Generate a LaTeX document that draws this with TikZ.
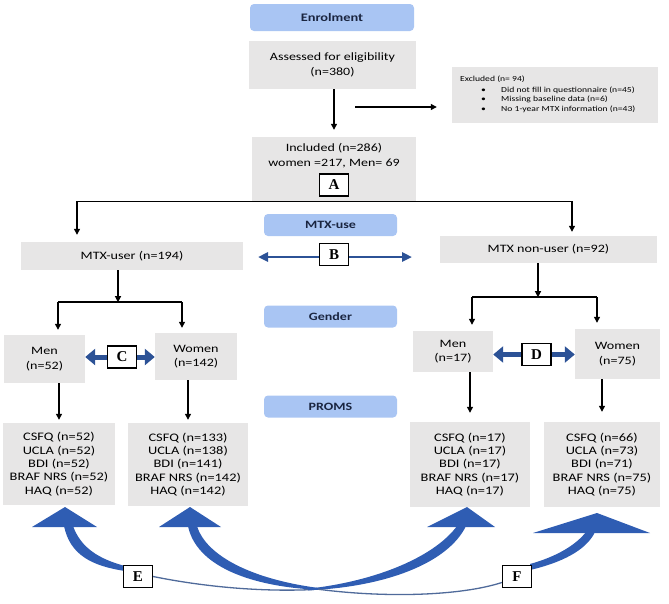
\documentclass[tikz,border=0pt]{standalone}
\usepackage{fontspec}
\setmainfont{Carlito}[FakeStretch=1.25]
\newfontfamily\letterfont{Liberation Serif}
\usetikzlibrary{arrows.meta}
\definecolor{boxgray}{HTML}{E7E6E6}
\definecolor{hdrblue}{HTML}{A9C5F3}
\definecolor{arrblue}{HTML}{2F5DB3}
\definecolor{dblblue}{HTML}{2C5296}
\definecolor{thinblue}{HTML}{4F6A9A}
\definecolor{hdrtext}{HTML}{1A2540}
\pgfdeclarelayer{bg}
\pgfsetlayers{bg,main}
\begin{document}
\begin{tikzpicture}[x=1pt,y=-1pt,
  gbox/.style={fill=boxgray, draw=none, inner sep=0pt, align=center, font=\fontsize{11.3}{14.5}\selectfont},
  pbox/.style={fill=boxgray, draw=none, inner sep=0pt, align=center, font=\fontsize{11.5}{13.3}\selectfont},
  hbox/.style={fill=hdrblue, rounded corners=4pt, inner sep=0pt, minimum width=133pt, minimum height=22pt, font=\bfseries\fontsize{11.2}{12}\selectfont, text=hdrtext},
  lbox/.style={draw=black, line width=1.2pt, fill=white, inner sep=0pt, minimum width=29pt, minimum height=22pt, font=\letterfont\bfseries\fontsize{15}{15}\selectfont},
  arr/.style={line width=1.2pt, -{Triangle[length=6pt,width=6pt]}},
  ln/.style={line width=1.2pt},
  dblab/.style={draw=dblblue, line width=2.6pt, {Triangle[length=10pt,width=9pt]}-{Triangle[length=10pt,width=9pt]}},
  dblcd/.style={draw=dblblue, line width=5pt, {Triangle[length=10pt,width=16pt]}-{Triangle[length=10pt,width=16pt]}},
  thin/.style={draw=thinblue, line width=1.3pt},
  exfont/.style={anchor=west, inner sep=0pt, font=\fontsize{7.7}{9}\selectfont}
]
\useasboundingbox (0,0) rectangle (669,603);

% top part
\node[hbox, minimum width=164pt, minimum height=27pt, font=\bfseries\fontsize{11.5}{12}\selectfont] (enrol) at (332,17.5) {Enrolment};
\node[gbox, minimum width=167pt, minimum height=48pt, font=\fontsize{11.2}{15}\selectfont] (ass) at (332.5,65) {Assessed for eligibility\\(n=380)};
\node[gbox, minimum width=164pt, minimum height=64pt] (incl) at (334,169) {};
\node[inner sep=0pt, align=center, font=\fontsize{11.2}{15}\selectfont] (incltxt) at (334,156) {Included (n=286)\\women =217, Men= 69};
\node[gbox, minimum width=206pt, minimum height=56pt] (excl) at (555,95) {};
\node[exfont] (ex0) at (460,79) {Excluded (n= 94)};
\node[exfont] (ex1) at (481,90.5) {\makebox[20pt][l]{\textbullet}Did not fill in questionnaire (n=45)};
\node[exfont] (ex2) at (481,99.5) {\makebox[20pt][l]{\textbullet}Missing baseline data (n=6)};
\node[exfont] (ex3) at (481,109) {\makebox[20pt][l]{\textbullet}No 1-year MTX information (n=43)};

% headers
\node[hbox] (mtxuse) at (330.5,225) {MTX-use};
\node[hbox] (gender) at (330.5,316.5) {Gender};
\node[hbox] (proms) at (330.5,406.5) {PROMS};

% groups
\node[gbox, minimum width=222pt, minimum height=28pt] (user) at (132,256) {MTX-user (n=194)};
\node[gbox, minimum width=217pt, minimum height=27pt] (nonuser) at (548.5,249.5) {MTX non-user (n=92)};
\node[gbox, minimum width=81pt, minimum height=48pt] (menL) at (44.5,359) {Men\\(n=52)};
\node[gbox, minimum width=82pt, minimum height=47pt] (womL) at (196,356.5) {Women\\(n=142)};
\node[gbox, minimum width=80pt, minimum height=41pt] (menR) at (453,351.5) {Men\\(n=17)};
\node[gbox, minimum width=85pt, minimum height=50pt] (womR) at (617.5,354) {Women\\(n=75)};

% PROMS boxes
\node[pbox, minimum width=112pt, minimum height=82pt] (p1) at (59,464) {CSFQ (n=52)\\UCLA (n=52)\\BDI (n=52)\\BRAF NRS (n=52)\\HAQ (n=52)};
\node[pbox, minimum width=120pt, minimum height=83pt] (p2) at (188,464.5) {CSFQ (n=133)\\UCLA (n=138)\\BDI (n=141)\\BRAF NRS (n=142)\\HAQ (n=142)};
\node[pbox, minimum width=120pt, minimum height=85pt] (p3) at (470,464.5) {CSFQ (n=17)\\UCLA (n=17)\\BDI (n=17)\\BRAF NRS (n=17)\\HAQ (n=17)};
\node[pbox, minimum width=116pt, minimum height=85pt] (p4) at (602,464.5) {CSFQ (n=66)\\UCLA (n=73)\\BDI (n=71)\\BRAF NRS (n=75)\\HAQ (n=75)};

% letter boxes
\node[lbox] (A) at (334,185) {A};
\node[lbox] (B) at (334,254.5) {B};
\node[lbox] (C) at (122,357) {C};
\node[lbox] (D) at (536.5,354.5) {D};
\node[lbox] (E) at (138,576.5) {E};
\node[lbox] (F) at (517,576.5) {F};

% black connectors
\draw[arr, shorten >=7pt] (incl.north |- ass.south) -- (incl.north);
\coordinate (exs) at (355,107);
\draw[arr, shorten >=15pt] (exs) -- (exs -| excl.west);
\draw[arr, shorten >=7pt] (incl.south) -| ([xshift=-55pt]user.north);
\draw[arr, shorten >=4pt] (incl.south) -| ([xshift=23.5pt]nonuser.north);

\draw[arr] ([xshift=-14pt]user.south) -- ++(0,32);
\coordinate (bl1) at (58,302);
\coordinate (bl2) at (182,302);
\draw[ln] (bl1) -- (bl2);
\draw[arr, shorten >=5pt] (bl1) -- (bl1 |- menL.north);
\draw[arr, shorten >=5pt] (bl2) -- (bl2 |- womL.north);

\draw[arr] ([xshift=-10.5pt]nonuser.south) -- ++(0,34);
\coordinate (br1) at (472,297);
\coordinate (br2) at (597,297);
\draw[ln] (br1) -- (br2);
\draw[arr, shorten >=6pt] (br1) -- (br1 |- menR.north);
\draw[arr, shorten >=6pt] (br2) -- (br2 |- womR.north);

\draw[arr, shorten >=3pt] (p1.north |- menL.south) -- (p1.north);
\draw[arr, shorten >=3pt] (p2.north |- womL.south) -- (p2.north);
\draw[arr, shorten >=9pt] (p3.north |- menR.south) -- (p3.north);
\draw[arr, shorten >=10pt] (p4.north |- womR.south) -- (p4.north);

\begin{pgfonlayer}{bg}
  % double arrows
  \coordinate (aL) at (277,186); \coordinate (aR) at (392,186);
  \draw[dblab] (aL) -- (aR);
  \coordinate (bL) at (258,257); \coordinate (bR) at (412,257);
  \draw[dblab] (bL) -- (bR);
  \draw[dblcd] (C.center -| menL.east) -- (C.center -| womL.west);
  \draw[dblcd] (D.center -| menR.east) -- (D.center -| womR.west);

  % big curved arrows
  \fill[arrblue] (65,507) -- (32,527) -- (97,527) -- cycle;
  \fill[arrblue] (190,507) -- (159,527) -- (221,527) -- cycle;
  \fill[arrblue] (467,507) -- (427,527) -- (495,527) -- cycle;
  \fill[arrblue] (597,513) -- (533,533) -- (650,533) -- cycle;

  % E: tri1 -> E box (thick), E box -> tri3 (thin then thick)
  \fill[arrblue] (64,526) .. controls (70,555) and (92,566) .. (125,571)
     -- (125,566) .. controls (99,559) and (81,548) .. (73,526) -- cycle;
  \draw[thin] (E.east) .. controls (205,587) and (262,592) .. (314,589.5);
  \fill[arrblue] (308,590.3) .. controls (386,587) and (448,563) .. (466,526)
     -- (457,526) .. controls (435,556) and (378,581) .. (308,588.7) -- cycle;

  % F: tri2 -> crossing (thick), thin -> F box, F box -> tri4 (thick)
  \fill[arrblue] (188,526) .. controls (196,565) and (248,587) .. (322,590)
     -- (322,588.4) .. controls (253,580) and (206,556) .. (197,526) -- cycle;
  \draw[thin] (318,589.2) .. controls (385,598) and (460,596) .. ([yshift=-6pt]F.west);
  \fill[arrblue] (530,570) .. controls (560,563) and (586,551) .. (595,532)
     -- (586,532) .. controls (575,546) and (555,557) .. (530,564) -- cycle;
\end{pgfonlayer}
\end{tikzpicture}
\end{document}
